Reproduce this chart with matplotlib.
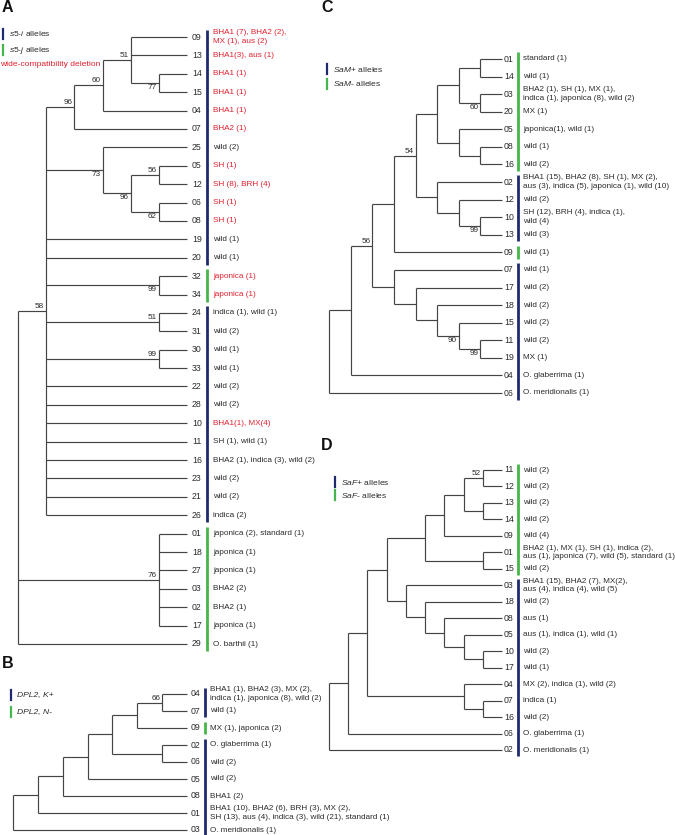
import matplotlib
matplotlib.use('Agg')
import matplotlib.pyplot as plt
from matplotlib.lines import Line2D
from matplotlib.transforms import offset_copy

plt.rcParams['font.family'] = ['Liberation Sans', 'DejaVu Sans']
plt.rcParams['mathtext.fontset'] = 'custom'
plt.rcParams['mathtext.rm'] = 'Liberation Sans'
plt.rcParams['mathtext.it'] = 'Liberation Sans:italic'

# --- data: trees (newick, internal labels = bootstrap), leaf descriptions, allele groups
A_TREE = ("(((((09,13,(14,15)77)51,04)60,07)96,(25,((05,12)56,(06,08)62)96)73,19,20,"
          "(32,34)99,(24,31)51,(30,33)99,22,28,10,11,16,23,21,26)58,(01,18,27,03,02,17)76,29);")
B_TREE = "(((((((04,07)66,09),(02,06)),05),08),01),03);"
C_TREE = ("((((((((01,14),(03,20)60),(05,(08,16))),(02,(12,(10,13)99)))54,09),"
          "(07,(17,(18,(15,(11,19)99)90))))56,04),06);")
D_TREE = ("((((((((11,12)52,(13,14)),09),(01,15)),(03,(18,(08,(05,(10,17)))))),"
          "(04,(07,16))),06),02);")

A_DESC = {
    '09': 'BHA1 (7), BHA2 (2),\nMX (1), aus (2)', '13': 'BHA1(3), aus (1)',
    '14': 'BHA1 (1)', '15': 'BHA1 (1)', '04': 'BHA1 (1)', '07': 'BHA2 (1)',
    '25': 'wild (2)', '05': 'SH (1)', '12': 'SH (8), BRH (4)', '06': 'SH (1)',
    '08': 'SH (1)', '19': 'wild (1)', '20': 'wild (1)', '32': 'japonica (1)',
    '34': 'japonica (1)', '24': 'indica (1), wild (1)', '31': 'wild (2)',
    '30': 'wild (1)', '33': 'wild (1)', '22': 'wild (2)', '28': 'wild (2)',
    '10': 'BHA1(1), MX(4)', '11': 'SH (1), wild (1)',
    '16': 'BHA2 (1), indica (3), wild (2)', '23': 'wild (2)', '21': 'wild (2)',
    '26': 'indica (2)', '01': 'japonica (2), standard (1)', '18': 'japonica (1)',
    '27': 'japonica (1)', '03': 'BHA2 (2)', '02': 'BHA2 (1)', '17': 'japonica (1)',
    '29': 'O. barthii (1)',
}
A_RED = ['09', '13', '14', '15', '04', '07', '05', '12', '06', '08', '32', '34', '10']
A_GREEN = ['32', '34', '01', '18', '27', '03', '02', '17', '29']

B_DESC = {
    '04': 'BHA1 (1), BHA2 (3), MX (2),\nindica (1), japonica (8), wild (2)',
    '07': 'wild (1)', '09': 'MX (1), japonica (2)', '02': 'O. glaberrima (1)',
    '06': 'wild (2)', '05': 'wild (2)', '08': 'BHA1 (2)',
    '01': 'BHA1 (10), BHA2 (6), BRH (3), MX (2),\nSH (13), aus (4), indica (3), wild (21), standard (1)',
    '03': 'O. meridionalis (1)',
}
B_GREEN = ['09']

C_DESC = {
    '01': 'standard (1)', '14': 'wild (1)',
    '03': 'BHA2 (1), SH (1), MX (1),\nindica (1), japonica (8), wild (2)',
    '20': 'MX (1)', '05': 'japonica(1), wild (1)', '08': 'wild (1)', '16': 'wild (2)',
    '02': 'BHA1 (15), BHA2 (8), SH (1), MX (2),\naus (3), indica (5), japonica (1), wild (10)',
    '12': 'wild (2)', '10': 'SH (12), BRH (4), indica (1),\nwild (4)', '13': 'wild (3)',
    '09': 'wild (1)', '07': 'wild (1)', '17': 'wild (2)', '18': 'wild (2)',
    '15': 'wild (2)', '11': 'wild (2)', '19': 'MX (1)', '04': 'O. glaberrima (1)',
    '06': 'O. meridionalis (1)',
}
C_GREEN = ['01', '14', '03', '20', '05', '08', '16', '09']

D_DESC = {
    '11': 'wild (2)', '12': 'wild (2)', '13': 'wild (2)', '14': 'wild (2)', '09': 'wild (4)',
    '01': 'BHA2 (1), MX (1), SH (1), indica (2),\naus (1), japonica (7), wild (5), standard (1)',
    '15': 'wild (2)', '03': 'BHA1 (15), BHA2 (7), MX(2),\naus (4), indica (4), wild (5)',
    '18': 'wild (2)', '08': 'aus (1)', '05': 'aus (1), indica (1), wild (1)',
    '10': 'wild (2)', '17': 'wild (1)', '04': 'MX (2), indica (1), wild (2)',
    '07': 'indica (1)', '16': 'wild (2)', '06': 'O. glaberrima (1)',
    '02': 'O. meridionalis (1)',
}
D_GREEN = ['11', '12', '13', '14', '09', '01', '15']

# --- style
W, H = 675, 835
LINE = '#444444'
TXT = '#2b2b2b'
RED = '#e3202e'
BLUE = '#1f2a6e'
GREEN = '#45b649'
FS = 5.9


def parse_newick(s):
    s = s.strip().rstrip(';')
    pos = 0

    def label():
        nonlocal pos
        st = pos
        while pos < len(s) and s[pos] not in ',()':
            pos += 1
        return s[st:pos]

    def node():
        nonlocal pos
        if s[pos] == '(':
            pos += 1
            kids = [node()]
            while s[pos] == ',':
                pos += 1
                kids.append(node())
            pos += 1
            return {'kids': kids, 'label': label()}
        return {'kids': [], 'label': label()}

    return node()


def prep(n, leaves):
    if not n['kids']:
        n['h'] = 0
        n['y'] = len(leaves)
        leaves.append(n['label'])
        return
    for k in n['kids']:
        prep(k, leaves)
    n['h'] = 1 + max(k['h'] for k in n['kids'])
    n['y'] = (n['kids'][0]['y'] + n['kids'][-1]['y']) / 2


def first_leaf(n):
    return n['label'] if not n['kids'] else first_leaf(n['kids'][0])


fig = plt.figure(figsize=(W / 100, H / 100), dpi=100)


def px(x, y):
    return x / W, 1 - y / H


def draw_tree(newick, desc, green, rect, num_dx, bar_dx, txt_dx, red=(), below=()):
    x0, x1, y0, y1 = rect
    tree = parse_newick(newick)
    leaves = []
    prep(tree, leaves)
    top = tree['h']
    ax = fig.add_axes([x0 / W, 1 - y1 / H, (x1 - x0) / W, (y1 - y0) / H])
    ax.set_xlim(0, top)
    ax.set_ylim(len(leaves) - 1, 0)
    ax.set_axis_off()

    def xpos(n):
        return top - n['h']

    def walk(n):
        if not n['kids']:
            return
        xn = xpos(n)
        ax.plot([xn, xn], [n['kids'][0]['y'], n['kids'][-1]['y']], color=LINE, lw=0.85,
                clip_on=False, solid_capstyle='butt')
        for i, k in enumerate(n['kids']):
            ax.plot([xn, xpos(k)], [k['y'], k['y']], color=LINE, lw=0.85, clip_on=False,
                    solid_capstyle='butt')
            if k['kids'] and k['label']:
                if i == 0:
                    up = True
                elif i == len(n['kids']) - 1:
                    up = False
                else:
                    up = first_leaf(k) not in below
                ax.annotate(k['label'], xy=(xpos(k), k['y']), xytext=(-2, 1 if up else -1),
                            textcoords='offset pixels', ha='right',
                            va='bottom' if up else 'top', fontsize=FS, color=TXT)
            walk(k)

    walk(tree)

    for i, lf in enumerate(leaves):
        ax.annotate(lf, xy=(top, i), xytext=(num_dx, 0), textcoords='offset pixels',
                    ha='left', va='center', fontsize=FS + 0.4, color=TXT)
        ax.annotate(desc[lf], xy=(top, i), xytext=(txt_dx, 0), textcoords='offset pixels',
                    ha='left', va='center', fontsize=FS, color=RED if lf in red else TXT,
                    linespacing=1.3)

    # allele colour bars, one per run of equal group
    tr = offset_copy(ax.transData, fig=fig, x=bar_dx, y=0, units='dots')
    runs = []
    for i, lf in enumerate(leaves):
        g = lf in green
        if runs and runs[-1][0] == g:
            runs[-1][2] = i
        else:
            runs.append([g, i, i])
    for g, a, b in runs:
        ax.plot([top, top], [a - 0.38, b + 0.38], transform=tr, color=GREEN if g else BLUE,
                lw=2.0, solid_capstyle='butt', clip_on=False)
    return ax


draw_tree(A_TREE, A_DESC, A_GREEN, (18, 187, 37, 644), 5, 20, 26, red=A_RED,
          below=('25', '32'))
draw_tree(B_TREE, B_DESC, B_GREEN, (13, 187, 694, 830), 4, 18, 23)
draw_tree(C_TREE, C_DESC, C_GREEN, (329, 502, 59, 393), 2, 16, 21)
draw_tree(D_TREE, D_DESC, D_GREEN, (329, 502, 470, 750), 2, 16, 21)


def legend_row(x, y, color, text, **kw):
    fig.add_artist(Line2D([x / W, x / W], [1 - (y - 5) / H, 1 - (y + 5) / H],
                          color=color, lw=1.6))
    fig.text(*px(x + 6, y), text, ha='left', va='center', fontsize=FS + 0.2, color=TXT, **kw)


legend_row(3, 34, BLUE, r'$\mathit{s5}$-$\mathit{i}$ alleles')
legend_row(3, 50, GREEN, r'$\mathit{s5}$-$\mathit{j}$ alleles')
fig.text(*px(0, 64), 'wide-compatibility deletion', ha='left', va='center',
         fontsize=FS + 0.2, color=RED)
legend_row(11, 695, BLUE, 'DPL2, K+', style='italic')
legend_row(11, 712, GREEN, 'DPL2, N-', style='italic')
legend_row(327, 69, BLUE, r'$\mathit{SaM}$+ alleles')
legend_row(327, 84, GREEN, r'$\mathit{SaM}$- alleles')
legend_row(335, 482, BLUE, r'$\mathit{SaF}$+ alleles')
legend_row(335, 495, GREEN, r'$\mathit{SaF}$- alleles')

for letter, lx, ly in [('A', 2, 8), ('B', 2, 664), ('C', 321, 8), ('D', 321, 445)]:
    fig.text(*px(lx, ly), letter, ha='left', va='center', fontsize=11.5,
             fontweight='bold', color='#111111')

fig.savefig('out.png', dpi=100)
